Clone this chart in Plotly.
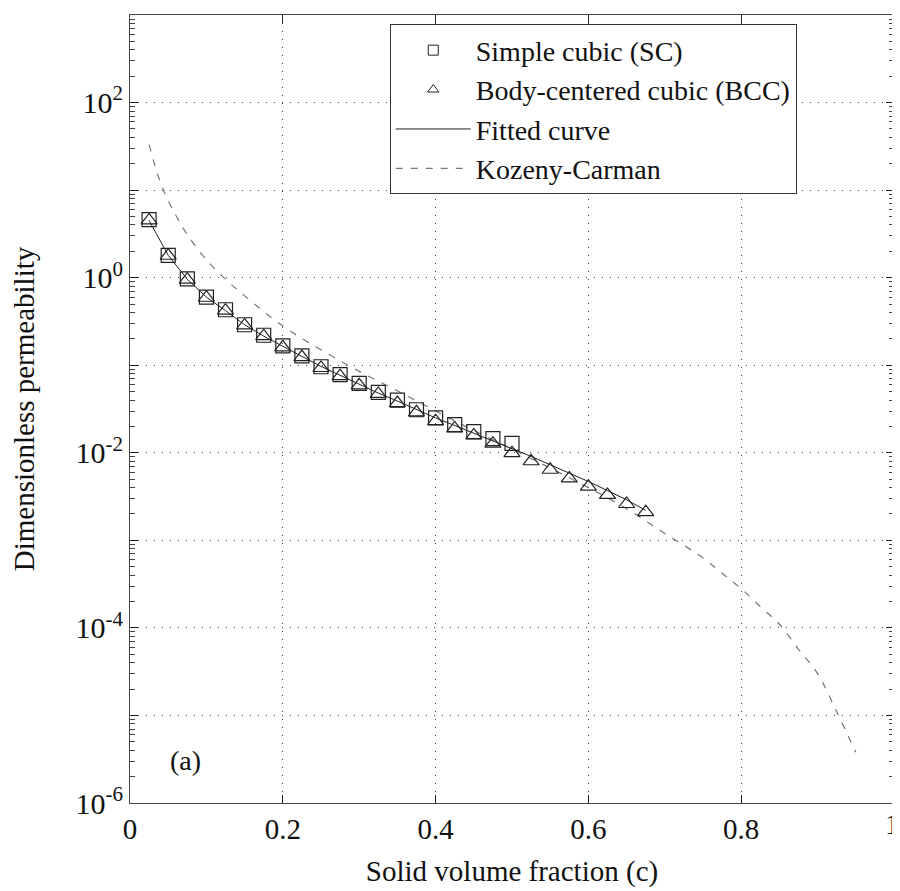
import plotly.graph_objects as go

# ---- data ----
x_sc = [0.025, 0.05, 0.075, 0.1, 0.125, 0.15, 0.175, 0.2, 0.225, 0.25,
        0.275, 0.3, 0.325, 0.35, 0.375, 0.4, 0.425, 0.45, 0.475, 0.5]
k_sc = [4.6, 1.8, 0.97, 0.6, 0.43, 0.29, 0.22, 0.166, 0.128, 0.096,
        0.078, 0.062, 0.049, 0.040, 0.031, 0.025, 0.021, 0.0174, 0.0145, 0.0128]

x_bcc = [0.025, 0.05, 0.075, 0.1, 0.125, 0.15, 0.175, 0.2, 0.225, 0.25,
         0.275, 0.3, 0.325, 0.35, 0.375, 0.4, 0.425, 0.45, 0.475, 0.5,
         0.525, 0.55, 0.575, 0.6, 0.625, 0.65, 0.675]
k_bcc = [4.5, 1.78, 0.95, 0.59, 0.42, 0.285, 0.215, 0.16, 0.124, 0.093,
         0.075, 0.059, 0.047, 0.037, 0.029, 0.023, 0.019, 0.0158, 0.0127, 0.0099,
         0.0080, 0.0064, 0.0051, 0.0041, 0.0033, 0.0026, 0.0021]

x_fit = [0.025, 0.05, 0.075, 0.1, 0.125, 0.15, 0.175, 0.2, 0.225, 0.25,
         0.275, 0.3, 0.325, 0.35, 0.375, 0.4, 0.425, 0.45, 0.475, 0.5,
         0.525, 0.55, 0.575, 0.6, 0.625, 0.65, 0.675]
k_fit = [4.5, 1.8, 0.96, 0.6, 0.42, 0.29, 0.215, 0.163, 0.126, 0.097,
         0.077, 0.061, 0.048, 0.039, 0.031, 0.025, 0.0205, 0.0168, 0.0138, 0.0113,
         0.0091, 0.0073, 0.0059, 0.0047, 0.0037, 0.0029, 0.0022]

x_kc = [0.025, 0.0375, 0.05, 0.0625, 0.075, 0.1, 0.125, 0.15, 0.2, 0.25, 0.3,
        0.35, 0.4, 0.45, 0.5, 0.55, 0.6, 0.65, 0.7, 0.75, 0.775, 0.8, 0.825,
        0.85, 0.875, 0.9, 0.925, 0.95]
k_kc = [33, 14, 7.6, 4.7, 3.1, 1.6, 0.96, 0.62, 0.28, 0.15, 0.085,
        0.051, 0.030, 0.018, 0.011, 0.0067, 0.0040, 0.0023, 0.0012, 6.3e-4, 4.2e-4, 2.8e-4, 1.75e-4,
        1.1e-4, 5.7e-5, 3.0e-5, 1.1e-5, 3.8e-6]

x_ticks = [0, 0.2, 0.4, 0.6, 0.8, 1]
x_ticktext = ["0", "0.2", "0.4", "0.6", "0.8", "1"]
y_exps = [-6, -5, -4, -3, -2, -1, 0, 1, 2, 3]
y_ticktext = ["10<sup>%d</sup>" % e if e % 2 == 0 else "" for e in y_exps]
y_minor = [m * 10 ** e for e in range(-6, 3) for m in range(2, 10)]

FONT = "Liberation Serif"
TXT = "#111"

fig = go.Figure()

# Kozeny-Carman (dashed)
fig.add_trace(go.Scatter(x=x_kc, y=k_kc, mode="lines",
                         line=dict(color="#777", width=1.2, dash="7px,8px", shape="spline"),
                         showlegend=False, hoverinfo="skip"))
# Fitted curve
fig.add_trace(go.Scatter(x=x_fit, y=k_fit, mode="lines",
                         line=dict(color="#222", width=1),
                         showlegend=False))
# SC squares
fig.add_trace(go.Scatter(x=x_sc, y=k_sc, mode="markers",
                         marker=dict(symbol="square-open", size=14, color="#222",
                                     line=dict(width=1.2, color="#222")),
                         showlegend=False))
# BCC triangles
fig.add_trace(go.Scatter(x=x_bcc, y=k_bcc, mode="markers",
                         marker=dict(symbol="triangle-up-open", size=14, color="#222",
                                     line=dict(width=1.2, color="#222")),
                         showlegend=False))

# legend entries
fig.add_trace(go.Scatter(x=[None], y=[None], mode="markers", name="Simple cubic (SC)",
                         marker=dict(symbol="square-open", size=10, color="#222",
                                     line=dict(width=1, color="#222"))))
fig.add_trace(go.Scatter(x=[None], y=[None], mode="markers", name="Body-centered cubic (BCC)",
                         marker=dict(symbol="triangle-up-open", size=10, color="#222",
                                     line=dict(width=1, color="#222"))))
fig.add_trace(go.Scatter(x=[None], y=[None], mode="lines", name="Fitted curve",
                         line=dict(color="#222", width=1)))
fig.add_trace(go.Scatter(x=[None], y=[None], mode="lines", name="Kozeny-Carman",
                         line=dict(color="#777", width=1.2, dash="7px,8px")))

fig.add_annotation(x=0.0725, y=-5.52, xref="x", yref="y", text="(a)", showarrow=False,
                   font=dict(family=FONT, size=28, color=TXT))
# last x tick label, kept inside the page at the right end of the axis
fig.add_annotation(x=1, y=0, xref="paper", yref="paper", text=x_ticktext[-1],
                   showarrow=False, xanchor="right", yanchor="top",
                   xshift=7, yshift=-4, borderpad=0,
                   font=dict(family=FONT, size=29, color=TXT))

fig.update_layout(
    width=900, height=891,
    margin=dict(l=122, r=14, t=7, b=96),
    paper_bgcolor="white", plot_bgcolor="white",
    font=dict(family=FONT, size=28, color=TXT),
    showlegend=True,
    legend=dict(x=0.34, y=0.988, xanchor="left", yanchor="top",
                bgcolor="white", bordercolor="#333", borderwidth=1,
                font=dict(family=FONT, size=28, color=TXT),
                itemwidth=75, tracegroupgap=0),
    xaxis=dict(range=[0, 1], tickvals=x_ticks[:-1], ticktext=x_ticktext[:-1],
               ticks="inside", ticklen=8, tickcolor="#222", mirror="ticks",
               showline=True, linecolor="#444", linewidth=1,
               showgrid=True, gridcolor="#444", griddash="1px,7px", gridwidth=1.2,
               zeroline=False,
               tickfont=dict(family=FONT, size=29, color=TXT),
               title=dict(text="Solid volume fraction (c)", standoff=16,
                          font=dict(family=FONT, size=29, color=TXT))),
    yaxis=dict(type="log", range=[-6, 3],
               tickvals=[10 ** e for e in y_exps], ticktext=y_ticktext,
               ticks="inside", ticklen=8, tickcolor="#222", mirror="ticks",
               showline=True, linecolor="#444", linewidth=1,
               showgrid=True, gridcolor="#444", griddash="1px,7px", gridwidth=1.2,
               zeroline=False,
               minor=dict(tickmode="array", tickvals=y_minor, ticks="inside",
                          ticklen=5, tickcolor="#444", showgrid=False),
               tickfont=dict(family=FONT, size=30, color=TXT),
               title=dict(text="Dimensionless permeability", standoff=32,
                          font=dict(family=FONT, size=29, color=TXT))),
)

fig.write_html("out.html")
